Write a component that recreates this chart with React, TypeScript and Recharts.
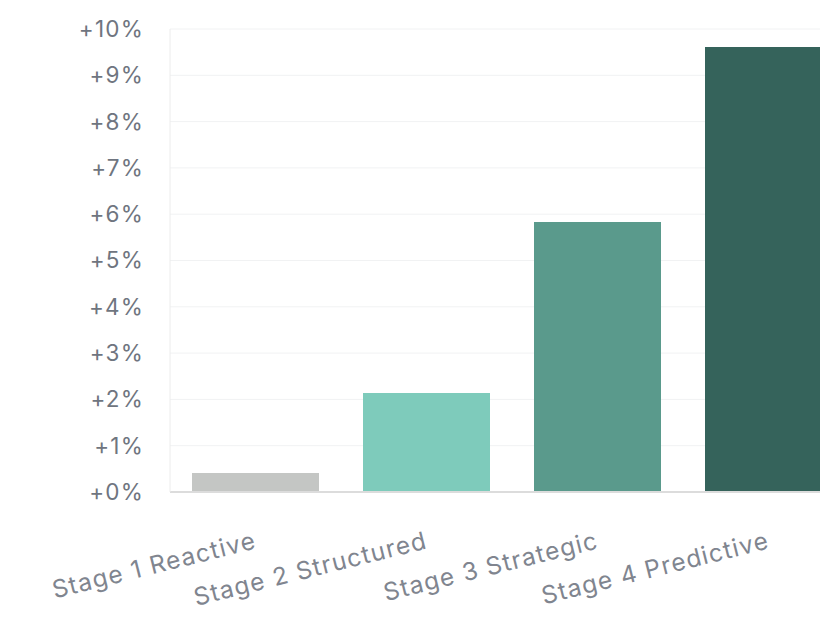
import { BarChart, Bar, XAxis, YAxis, CartesianGrid, Cell } from 'recharts';

const stages = ['Stage 1 Reactive', 'Stage 2 Structured', 'Stage 3 Strategic', 'Stage 4 Predictive'];
const uplift = [0.41, 2.14, 5.83, 9.61];
const barColors = ['#c4c6c4', '#7ecbbb', '#5a9a8c', '#35635b'];
const yTicks = [0, 1, 2, 3, 4, 5, 6, 7, 8, 9, 10];

const data = stages.map((stage, i) => ({ stage, value: uplift[i] }));

const FONT = 'Inter, "Noto Sans", sans-serif';

const StageTick = (props: any) => {
  const { x, y, payload } = props;
  return (
    <g transform={`translate(${x + 2},${y + 48})`}>
      <text
        x={0}
        y={0}
        textAnchor="end"
        transform="rotate(-14)"
        fill="#80858f"
        fontSize={24.5}
        letterSpacing={1.2}
        fontFamily={FONT}
      >
        {payload.value}
      </text>
    </g>
  );
};

const App = () => {
  return (
    <div
      style={{
        position: 'fixed',
        left: 0,
        top: 0,
        width: 820,
        height: 620,
        overflow: 'hidden',
        background: '#fff',
      }}
    >
      <BarChart
        width={854}
        height={620}
        data={data}
        margin={{ top: 29, right: 0, bottom: 0, left: 0 }}
        barCategoryGap={22}
      >
        <CartesianGrid stroke="#f1f2f3" vertical={false} />
        <XAxis
          dataKey="stage"
          height={128}
          interval={0}
          tick={<StageTick />}
          tickLine={false}
          axisLine={{ stroke: '#dcdcdc', strokeWidth: 2 }}
        />
        <YAxis
          width={170}
          domain={[0, 10]}
          ticks={yTicks}
          interval={0}
          tickFormatter={(v: number) => `+${v}%`}
          tickLine={false}
          tickSize={0}
          tickMargin={26}
          axisLine={{ stroke: '#ececec' }}
          tick={{ fill: '#6f7580', fontSize: 22.5, letterSpacing: 1.2, fontFamily: FONT }}
        />
        <Bar dataKey="value" isAnimationActive={false}>
          {data.map((d, i) => (
            <Cell key={d.stage} fill={barColors[i]} />
          ))}
        </Bar>
      </BarChart>
    </div>
  );
};

export default App;
